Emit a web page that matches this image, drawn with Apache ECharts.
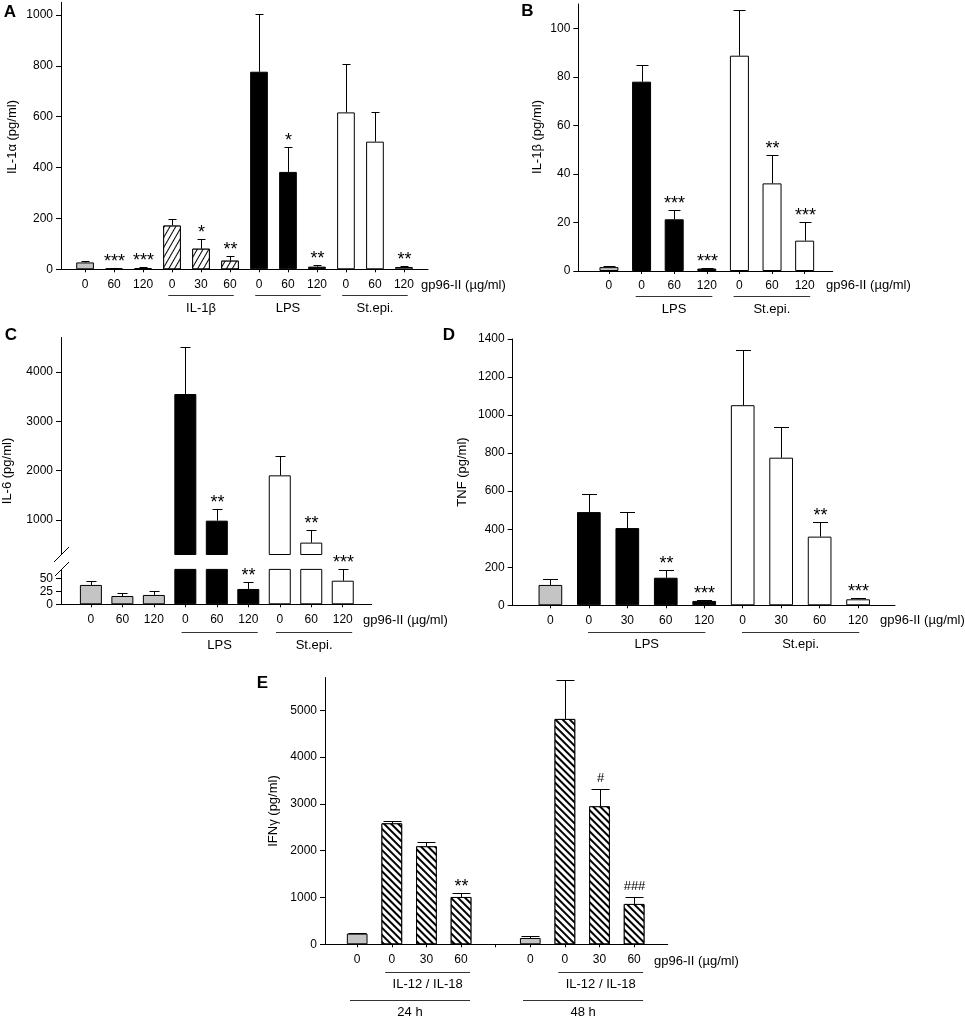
<!DOCTYPE html>
<html><head><meta charset="utf-8">
<script src="https://cdn.jsdelivr.net/npm/echarts@6/dist/echarts.min.js"></script>
<style>html,body{margin:0;padding:0;background:#fff}#c{width:965px;height:1018px}</style>
</head><body><div id="c"></div><script>
// ---------------- DATA ----------------
// Panel A: IL-1alpha
const aTicks = ['0','60','120','0','30','60','0','60','120','0','60','120'];
const aStim  = ['ctrl','ctrl','ctrl','IL-1β','IL-1β','IL-1β','LPS','LPS','LPS','St.epi.','St.epi.','St.epi.'];
const aValues = [27, 4, 5, 172, 81, 34, 777, 383, 10.5, 617, 502, 9];
const aSems   = [7, 3, 3, 25, 38, 17, 227, 98, 5.5, 192, 118, 4];
const aSig    = ['', '***', '***', '', '*', '**', '', '*', '**', '', '', '**'];
const aYTicks = [0, 200, 400, 600, 800, 1000];

// Panel B: IL-1beta
const bTicks = ['0','0','60','120','0','60','120'];
const bStim  = ['ctrl','LPS','LPS','LPS','St.epi.','St.epi.','St.epi.'];
const bValues = [1.6, 78, 21.3, 1.0, 88.7, 36.1, 12.5];
const bSems   = [0.6, 7, 4, 0.4, 18.7, 11.6, 7.8];
const bSig    = ['', '', '***', '***', '', '**', '***'];
const bYTicks = [0, 20, 40, 60, 80, 100];

// Panel C: IL-6 (broken axis)
const cTicks = ['0','60','120','0','60','120','0','60','120'];
const cStim  = ['ctrl','ctrl','ctrl','LPS','LPS','LPS','St.epi.','St.epi.','St.epi.'];
const cValues = [37.7, 16.2, 18.2, 3554, 986, 29.9, 1905, 541, 46];
const cSems   = [8.3, 5.2, 8.4, 960, 237, 13, 392, 256, 22];
const cSig    = ['', '', '', '', '**', '**', '', '**', '***'];
const cYTicksUpper = [1000, 2000, 3000, 4000];
const cYTicksLower = [0, 25, 50];

// Panel D: TNF
const dTicks = ['0','0','30','60','120','0','30','60','120'];
const dStim  = ['ctrl','LPS','LPS','LPS','LPS','St.epi.','St.epi.','St.epi.','St.epi.'];
const dValues = [107, 490, 406, 145, 23, 1052, 776, 361, 31.5];
const dSems   = [30, 95, 84, 39, 7, 291, 159, 77, 8.5];
const dSig    = ['', '', '', '**', '***', '', '', '**', '***'];
const dYTicks = [0, 200, 400, 600, 800, 1000, 1200, 1400];

// Panel E: IFN-gamma
const eTicks = ['0','0','30','60','','0','0','30','60'];
const eStim  = ['ctrl','IL-12 / IL-18','IL-12 / IL-18','IL-12 / IL-18','','ctrl','IL-12 / IL-18','IL-12 / IL-18','IL-12 / IL-18'];
const eTime  = ['24 h','24 h','24 h','24 h','','48 h','48 h','48 h','48 h'];
const eValues = [228, 2585, 2094, 1011, null, 135, 4815, 2949, 862];
const eSems   = [21, 50, 93, 93, null, 50, 833, 363, 157];
const eSig    = ['', '', '', '**', '', '', '', '#', '###'];
const eYTicks = [0, 1000, 2000, 3000, 4000, 5000];

// ---------------- STYLE ----------------
const FONT = "'Liberation Sans', Arial, sans-serif";
const BLACK = '#000';
function fillStyle(stim) {
  const base = {borderColor: BLACK, borderWidth: 1};
  if (stim === 'ctrl') return Object.assign({}, base, {color: '#c4c4c4'});
  if (stim === 'LPS') return Object.assign({}, base, {color: '#000'});
  if (stim === 'St.epi.') return Object.assign({}, base, {color: '#fff'});
  if (stim === 'IL-1β') return Object.assign({}, base, {color: '#fff', decal: {
    symbol: 'rect', symbolSize: 1, color: '#000', backgroundColor: '#fff',
    dashArrayX: [1, 0], dashArrayY: [1, 4], rotation: -Math.PI / 3}});
  return Object.assign({}, base, {color: '#fff', decal: {
    symbol: 'rect', symbolSize: 1, color: '#000', backgroundColor: '#fff',
    dashArrayX: [1, 0], dashArrayY: [1.3, 2.7], rotation: Math.PI / 4}});
}

const grids = [], xAxes = [], yAxes = [], series = [];

function range(n) { const r = []; for (let i = 0; i < n; i++) r.push(i); return r; }

function addGrid(L, ticks, yMin, yMax, yTicks, showX) {
  const gi = grids.length;
  grids.push({left: L.left, top: L.top, width: L.width, height: L.height, containLabel: false, outerBoundsMode: 'none'});
  xAxes.push({
    type: 'value', gridIndex: gi, min: L.xMin, max: L.xMax, position: 'bottom',
    axisLine: {show: showX, onZero: false, lineStyle: {color: BLACK, width: 1}},
    axisTick: {show: showX, customValues: range(ticks.length), length: 3, lineStyle: {color: BLACK}},
    axisLabel: {show: showX, customValues: range(ticks.length).filter(i => ticks[i] !== ''),
      formatter: v => ticks[Math.round(v)], margin: 9, fontSize: 12, color: BLACK, fontFamily: FONT},
    splitLine: {show: false}
  });
  yAxes.push({
    type: 'value', gridIndex: gi, min: yMin, max: yMax,
    axisLine: {show: true, onZero: false, lineStyle: {color: BLACK, width: 1}},
    axisTick: {show: true, customValues: yTicks, length: 5, lineStyle: {color: BLACK}},
    axisLabel: {customValues: yTicks, formatter: v => String(v), margin: 8, fontSize: 12, color: BLACK, fontFamily: FONT},
    splitLine: {show: false}
  });
  return gi;
}

function addBars(gi, values, stim, barW, keep) {
  const data = [];
  values.forEach((v, i) => {
    if (v == null) return;
    if (keep && !keep(v, i)) return;
    data.push({value: [i, v], itemStyle: fillStyle(stim[i])});
  });
  series.push({type: 'bar', xAxisIndex: gi, yAxisIndex: gi, barWidth: barW, clip: true, z: 2, data: data});
}

function addErrors(gi, values, sems, sigs, capW, keep) {
  const data = [];
  values.forEach((v, i) => {
    if (v == null || sems[i] == null) return;
    if (keep && !keep(v, i)) return;
    data.push([i, v, v + sems[i]]);
  });
  series.push({
    type: 'custom', xAxisIndex: gi, yAxisIndex: gi, z: 5, clip: false, data: data,
    renderItem: function (params, api) {
      const i = api.value(0);
      const p0 = api.coord([i, api.value(1)]);
      const p1 = api.coord([i, api.value(2)]);
      const x = Math.round(p0[0]) + 0.5;
      const yt = Math.round(p1[1]) + 0.5;
      const children = [
        {type: 'line', shape: {x1: x, y1: p0[1], x2: x, y2: yt}, style: {stroke: BLACK, lineWidth: 1}},
        {type: 'line', shape: {x1: x - capW / 2, y1: yt, x2: x + capW / 2, y2: yt}, style: {stroke: BLACK, lineWidth: 1}}
      ];
      const s = sigs[i];
      if (s) {
        const hash = s.indexOf('#') >= 0;
        children.push({type: 'text', x: x, y: yt - (hash ? 11 : 6),
          style: {text: s, fontSize: hash ? 13 : 18, fontFamily: FONT, fill: BLACK, align: 'center', verticalAlign: 'middle'}});
      }
      return {type: 'group', children: children};
    }
  });
}

function runs(labels) {
  const out = [];
  let i = 0;
  while (i < labels.length) {
    const l = labels[i];
    let j = i;
    while (j + 1 < labels.length && labels[j + 1] === l) j++;
    if (l && l !== 'ctrl') out.push({label: l, start: i, end: j});
    i = j + 1;
  }
  return out;
}

function addGroups(gi, labels, extL, extR, lineOff, textOff) {
  const g = runs(labels);
  series.push({
    type: 'custom', xAxisIndex: gi, yAxisIndex: gi, z: 5, clip: false, silent: true,
    data: g.map(r => [r.start, r.end]),
    renderItem: function (params, api) {
      const a = api.coord([api.value(0) - extL, 0]);
      const b = api.coord([api.value(1) + extR, 0]);
      const y = Math.round(a[1] + lineOff) + 0.5;
      return {type: 'group', children: [
        {type: 'line', shape: {x1: a[0], y1: y, x2: b[0], y2: y}, style: {stroke: '#333', lineWidth: 1}},
        {type: 'text', x: (a[0] + b[0]) / 2, y: a[1] + textOff,
          style: {text: g[params.dataIndex].label, fontSize: 13, fontFamily: FONT, fill: BLACK, align: 'center', verticalAlign: 'middle'}}
      ]};
    }
  });
}

// ---------------- PANELS ----------------
// A
const gA = addGrid({left: 61, top: 2.3, width: 367, height: 267, xMin: -0.83, xMax: 11.83}, aTicks, 0, 1050, aYTicks, true);
addBars(gA, aValues, aStim, 17.7);
addErrors(gA, aValues, aSems, aSig, 8);
addGroups(gA, aStim, 0.13, 0.13, 26, 39);

// B
const gB = addGrid({left: 578.3, top: 4, width: 254.4, height: 267, xMin: -0.94, xMax: 6.86}, bTicks, 0, 110, bYTicks, true);
addBars(gB, bValues, bStim, 19);
addErrors(gB, bValues, bSems, bSig, 12);
addGroups(gB, bStim, 0.18, 0.17, 25, 38);

// C (broken axis: upper and lower grids)
const C_SPLIT = 300;
const gCu = addGrid({left: 61, top: 337.5, width: 310.7, height: 217, xMin: -0.95, xMax: 8.92}, cTicks, C_SPLIT, 4700, cYTicksUpper, false);
const gCl = addGrid({left: 61, top: 569.4, width: 310.7, height: 34.9, xMin: -0.95, xMax: 8.92}, cTicks, 0, 68, cYTicksLower, true);
addBars(gCu, cValues, cStim, 22, v => v > C_SPLIT);
addErrors(gCu, cValues, cSems, cSig, 10, v => v > C_SPLIT);
addBars(gCl, cValues, cStim, 22);
addErrors(gCl, cValues, cSems, cSig, 10, v => v <= C_SPLIT);
addGroups(gCl, cStim, 0.12, 0.3, 28, 41);

// D
const gD = addGrid({left: 512.7, top: 339, width: 382.3, height: 266.3, xMin: -0.98, xMax: 8.96}, dTicks, 0, 1400, dYTicks, true);
addBars(gD, dValues, dStim, 23.7);
addErrors(gD, dValues, dSems, dSig, 15);
addGroups(gD, dStim, 0.02, 0.03, 27, 39);

// E
const gE = addGrid({left: 325, top: 677.5, width: 342.7, height: 266.8, xMin: -0.93, xMax: 8.97}, eTicks, 0, 5700, eYTicks, true);
addBars(gE, eValues, eStim, 20.7);
addErrors(gE, eValues, eSems, eSig, 18);
addGroups(gE, eStim, 0.19, 0.26, 28, 40);
addGroups(gE, eTime, 0.21, 0.26, 56, 68);

// ---------------- TEXT / DECORATION ----------------
function txt(x, y, s, opts) {
  return Object.assign({type: 'text', x: x, y: y, silent: true,
    style: Object.assign({text: s, fontSize: 13, fontFamily: FONT, fill: BLACK, align: 'left', verticalAlign: 'middle'}, opts || {})});
}
function vtxt(x, y, s) {
  const t = txt(x, y, s, {align: 'center'});
  t.rotation = Math.PI / 2;
  return t;
}
function letter(x, y, s) { return txt(x, y, s, {fontSize: 17, fontWeight: 'bold', align: 'center'}); }

const graphic = [
  letter(10, 12.5, 'A'), letter(527.5, 11.7, 'B'), letter(11, 335, 'C'), letter(449, 335, 'D'), letter(262.5, 683.3, 'E'),
  vtxt(12, 137, 'IL-1α (pg/ml)'),
  vtxt(537, 137, 'IL-1β (pg/ml)'),
  vtxt(7, 471, 'IL-6 (pg/ml)'),
  vtxt(462, 472, 'TNF (pg/ml)'),
  vtxt(273.5, 811, 'IFNγ (pg/ml)'),
  txt(421, 285, 'gp96-II (µg/ml)'),
  txt(826, 285, 'gp96-II (µg/ml)'),
  txt(363, 620, 'gp96-II (µg/ml)'),
  txt(880, 620, 'gp96-II (µg/ml)'),
  txt(654, 961, 'gp96-II (µg/ml)'),
  {type: 'line', silent: true, shape: {x1: 54, y1: 562, x2: 69, y2: 547}, style: {stroke: BLACK, lineWidth: 1}},
  {type: 'line', silent: true, shape: {x1: 55, y1: 576, x2: 69, y2: 562}, style: {stroke: BLACK, lineWidth: 1}}
];

const chart = echarts.init(document.getElementById('c'), null, {renderer: 'canvas'});
chart.setOption({
  animation: false,
  backgroundColor: '#fff',
  textStyle: {fontFamily: FONT},
  grid: grids, xAxis: xAxes, yAxis: yAxes, series: series, graphic: graphic
});
</script></body></html>
